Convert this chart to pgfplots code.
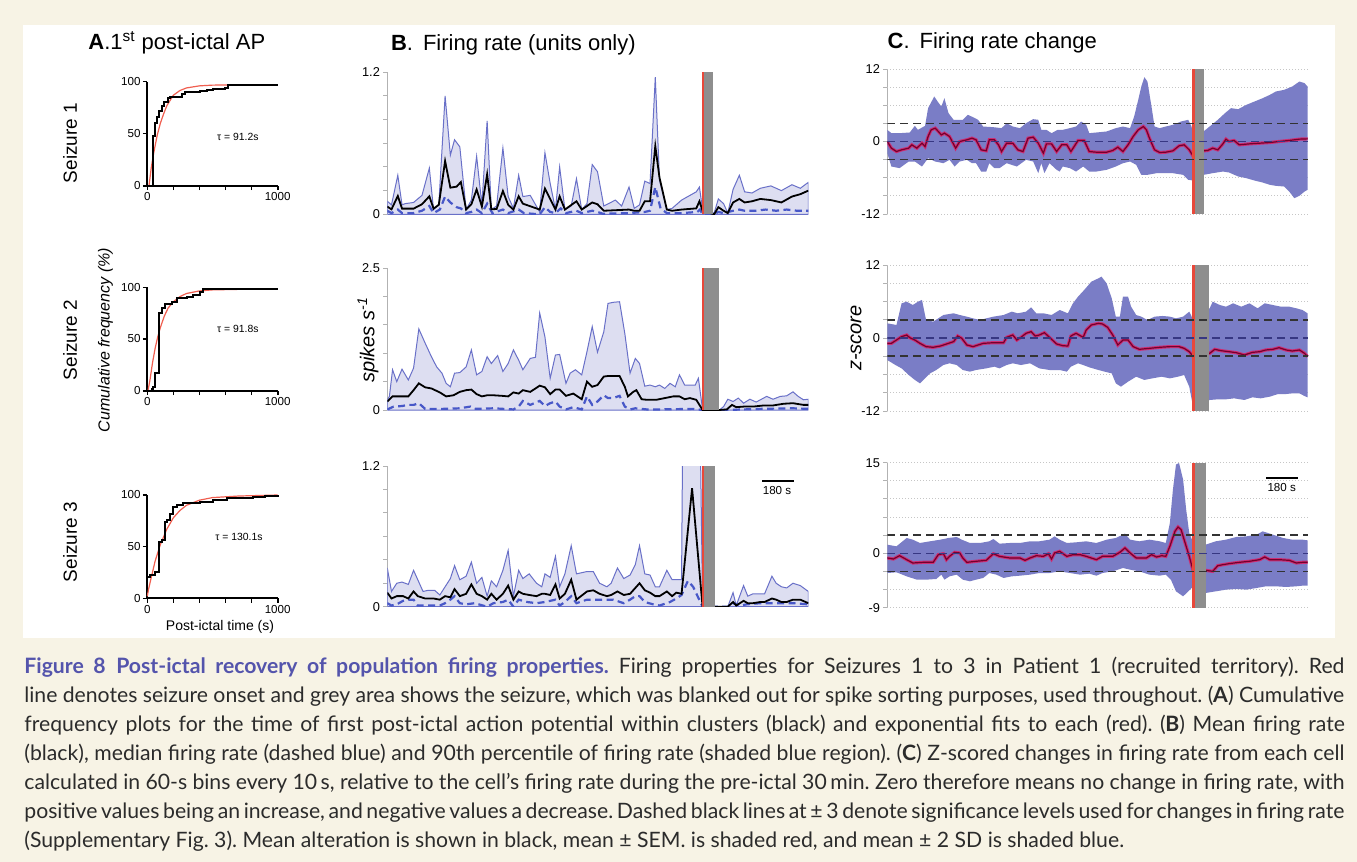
\documentclass[border=0pt]{standalone}
\usepackage{pgfplots}
\pgfplotsset{compat=1.18}
\usepackage{fontspec}
\setmainfont{Liberation Sans}
\newfontfamily\capfont{Lato}
\definecolor{cream}{RGB}{247,243,229}
\definecolor{bfill}{RGB}{221,222,241}
\definecolor{bline}{RGB}{105,112,200}
\definecolor{bmed}{RGB}{72,88,200}
\definecolor{cband}{RGB}{122,125,198}
\definecolor{sem}{RGB}{205,45,115}
\definecolor{meanc}{RGB}{115,0,45}
\definecolor{onset}{RGB}{232,72,58}
\definecolor{seiz}{RGB}{142,142,142}
\definecolor{figblue}{RGB}{84,84,172}
\definecolor{capgray}{RGB}{43,43,43}
\definecolor{fitred}{RGB}{240,95,80}
\definecolor{zline}{RGB}{55,55,130}
\pgfplotsset{
  Aax/.style={scale only axis, width=65.2pt, xmin=0, xmax=1000, ymin=0, ymax=100,
    axis lines=left, axis line style={-, line width=1pt, black},
    every tick/.style={black, line width=0.8pt}, tick align=outside, major tick length=2.2pt,
    xtick={0,200,400,600,800,1000}, xticklabels={0,,,,,1000},
    ytick={0,50,100}, yticklabels={0,50,100},
    tick label style={font=\fontsize{5.8}{6}\selectfont, inner sep=1pt}, clip=false},
  Bax/.style={scale only axis, width=210.5pt, xmin=-30, xmax=10.06, ymin=0,
    axis x line=none, axis y line*=left, axis line style={-, gray!60, line width=0.5pt},
    every tick/.style={gray!60, line width=0.5pt}, tick align=outside, major tick length=2pt,
    tick label style={font=\fontsize{6.4}{7}\selectfont, inner sep=1.5pt}},
  Cax/.style={scale only axis, width=210.65pt, xmin=-30, xmax=11.3,
    axis x line=none, axis y line*=left, axis line style={-, gray!60, line width=0.5pt},
    every tick/.style={gray!60, line width=0.5pt}, tick align=outside, major tick length=2pt,
    tick label style={font=\fontsize{6.4}{7}\selectfont, inner sep=1.5pt}},
  bup/.style={fill=bfill, draw=bline, line width=0.5pt},
  bmean/.style={black, line width=0.9pt},
  bmedian/.style={bmed, line width=1.1pt, dash pattern=on 3.5pt off 2.2pt},
  cfill/.style={fill=cband, draw=none},
  cmean/.style={meanc, line width=0.6pt},
  csem/.style={sem, line width=1.6pt},
  gridl/.style={gray!45, densely dotted, line width=0.5pt},
  sig/.style={black!80, line width=0.8pt, dash pattern=on 4pt off 2.5pt},
  zer/.style={zline, line width=0.8pt, dash pattern=on 4pt off 2.5pt},
}
\begin{document}
\begin{tikzpicture}
\useasboundingbox (0,0) rectangle (678.5pt,-431pt);
\begin{scope}[x=0.5pt,y=-0.5pt]
\fill[cream] (0,0) rectangle (1357,862);
\fill[white] (22.5,25) rectangle (1335,638);
\end{scope}

% ---------------- Panel A ----------------
\begin{axis}[Aax, height=52pt, at={(73.65pt,-92.85pt)}, anchor=south west]
\addplot[fitred, line width=0.6pt] coordinates {(13,0)(30,17)(50,32)(75,48)(100,60)(125,69)(150,77)(200,87)(250,91.5)(300,94)(400,96)(500,96.7)(700,97)(1000,97)};
\addplot[const plot, black, line width=1pt] coordinates {(0,0)(46,48)(59,60)(72,66)(92,72)(110,77)(128,80)(156,84)(174,85)(263,88)(289,90)(404,91)(455,92)(506,93)(596,94)(621,97)(1000,97)};
\end{axis}
\begin{axis}[Aax, height=51.7pt, at={(73.65pt,-195.35pt)}, anchor=south west]
\addplot[fitred, line width=0.6pt] coordinates {(5,0)(20,10)(40,27)(60,41)(80,52)(100,61)(130,72)(160,80)(200,86)(250,91)(300,94)(400,96.5)(500,97.5)(700,98)(1000,98)};
\addplot[const plot, black, line width=1pt] coordinates {(0,0)(33,1.3)(46,3.9)(59,16.8)(92,74.8)(110,79.7)(136,83.9)(187,86)(225,89.4)(302,91)(353,92.6)(404,95.8)(430,98)(1000,98)};
\end{axis}
\begin{axis}[Aax, height=51.65pt, at={(73.65pt,-299.15pt)}, anchor=south west]
\addplot[fitred, line width=0.6pt] coordinates {(0,2)(10,9)(30,20)(60,36)(100,52)(150,67)(200,78)(250,85)(300,90)(400,95)(500,97.5)(700,99)(1000,100)};
\addplot[const plot, black, line width=1pt] coordinates {(0,20.3)(20,22.6)(59,25.8)(92,54.8)(110,56.5)(136,74)(148,76)(174,82)(194,88.7)(225,90.3)(276,92.6)(404,93.5)(506,95)(609,96.8)(813,98.4)(900,99.5)(1000,100)};
\end{axis}

% ---------------- Panel B ----------------
\begin{axis}[Bax, height=71pt, ymax=1.2, ytick={0,0.2,0.4,0.6,0.8,1,1.2}, yticklabels={0,,,,,,1.2}, at={(193.65pt,-107.15pt)}, anchor=south west]
\addplot[bup] coordinates {(-30,0.11)(-29.6,0.08)(-29,0.33)(-28.6,0.08)(-28.3,0.09)(-27.5,0.10)(-26.7,0.16)(-26,0.39)(-25.6,0.04)(-25.1,0.08)(-24.5,1.00)(-24,0.50)(-23.6,0.63)(-23.1,0.57)(-22.5,0.04)(-22,0.12)(-21.5,0.49)(-21,0.08)(-20.5,0.79)(-20.1,0.04)(-19.6,0.07)(-19,0.56)(-18.5,0.15)(-18,0.05)(-17.5,0.33)(-17.1,0.15)(-16.4,0.16)(-15.5,0.02)(-15,0.52)(-14.5,0.26)(-14,0.04)(-13.6,0.40)(-13.1,0.04)(-12.5,0.07)(-12,0.30)(-11.5,0.04)(-11,0.09)(-10.5,0.42)(-10,0.36)(-9.4,0.07)(-8.3,0.12)(-7.7,0.07)(-7,0.23)(-6.5,0.05)(-6,0.08)(-5.5,0.28)(-5,0.26)(-4.5,1.16)(-4.1,0.29)(-3.4,0.04)(-2.9,0.05)(-2,0.12)(-1.2,0.16)(-0.6,0.19)(-0.3,0.23)(0,0.04)(1.1,0.01)(1.5,0.13)(2,0.09)(2.4,0.01)(2.9,0.21)(3.5,0.33)(4,0.19)(4.7,0.18)(5.5,0.22)(6.5,0.24)(7.5,0.2)(8.5,0.25)(9.3,0.22)(10.06,0.27)} \closedcycle;
\addplot[bmedian] coordinates {(-30,0.03)(-29.6,0.01)(-29,0.04)(-28.6,0.01)(-27.5,0.01)(-26.7,0.03)(-26,0.07)(-25.6,0.01)(-25,0.04)(-24.5,0.15)(-24,0.1)(-23.4,0.06)(-23,0.05)(-22.5,0.01)(-22,0.02)(-21.5,0.04)(-21,0.01)(-20.5,0.09)(-20,0.01)(-19,0.04)(-18.5,0.01)(-17.5,0.04)(-17,0.01)(-15.5,0)(-15,0.06)(-14.5,0.02)(-14,0.01)(-13.5,0.05)(-13,0.01)(-12,0.03)(-11.5,0.01)(-10.5,0.03)(-10,0.02)(-9.5,0.005)(-7,0.01)(-5.5,0.02)(-5,0.03)(-4.5,0.23)(-4,0.05)(-3.4,0.01)(-2,0.01)(-0.5,0.02)(-0.25,0.04)(0,0)(1.1,0)(1.5,0.02)(2,0.01)(2.9,0.03)(3.5,0.04)(4,0.03)(5,0.03)(6,0.04)(7,0.03)(8,0.04)(9,0.03)(10.06,0.03)};
\addplot[bmean] coordinates {(-30,0.065)(-29.6,0.042)(-29,0.155)(-28.6,0.048)(-27.5,0.048)(-26.7,0.085)(-26,0.152)(-25.6,0.048)(-25.1,0.08)(-24.5,0.45)(-24,0.225)(-23.4,0.234)(-23,0.273)(-22.5,0.04)(-22,0.085)(-21.5,0.21)(-21,0.065)(-20.5,0.338)(-20.1,0.042)(-19.6,0.045)(-19,0.197)(-18.5,0.08)(-18,0.04)(-17.5,0.152)(-17.1,0.09)(-15.5,0.04)(-15,0.217)(-14.5,0.13)(-14,0.04)(-13.6,0.152)(-13.1,0.04)(-12,0.11)(-11.5,0.04)(-10.5,0.1)(-10,0.085)(-9.4,0.03)(-7,0.04)(-6.5,0.03)(-6,0.03)(-5.5,0.11)(-5,0.11)(-4.5,0.577)(-4.1,0.31)(-3.4,0.04)(-2.9,0.03)(-2,0.04)(-0.6,0.05)(-0.3,0.11)(0,0.03)(1.1,0)(1.5,0.06)(2,0.03)(2.4,0.01)(2.9,0.1)(3.5,0.13)(4,0.1)(4.7,0.11)(5.5,0.13)(6.5,0.12)(7.5,0.1)(8.5,0.15)(9.3,0.17)(10.06,0.2)};
\fill[seiz] (axis cs:0.1,0) rectangle (axis cs:1.0,1.2);
\draw[onset, line width=1pt] (axis cs:0,0) -- (axis cs:0,1.2);
\end{axis}

\begin{axis}[Bax, height=70.85pt, ymax=2.5, ytick={0,0.5,1,1.5,2,2.5}, yticklabels={0,,,,,2.5}, at={(193.65pt,-205pt)}, anchor=south west]
\addplot[bup] coordinates {(-30,0.18)(-29.8,0.24)(-29.5,0.71)(-29.1,0.50)(-28.6,0.72)(-28,0.53)(-27.5,0.74)(-27,1.43)(-26.4,1.18)(-25.8,0.94)(-25.3,0.76)(-24.8,0.65)(-24.4,0.47)(-24,0.41)(-23.6,0.65)(-23.1,0.66)(-22.5,0.76)(-22,1.06)(-21.5,0.62)(-21,0.68)(-20.5,0.94)(-20.1,0.82)(-19.5,0.96)(-19,0.68)(-18.5,0.82)(-18,1.06)(-17.5,0.88)(-17.1,0.71)(-16.4,0.91)(-15.9,0.93)(-15.5,1.71)(-15,1.29)(-14.5,0.56)(-14,0.97)(-13.6,0.98)(-13,0.47)(-12.6,0.65)(-12.1,0.71)(-11.5,0.62)(-11,1.03)(-10.5,1.47)(-10,1.02)(-9.4,1.38)(-9,1.88)(-8.5,1.90)(-7.9,1.91)(-7.4,1.35)(-6.9,0.65)(-6.4,0.91)(-6,0.82)(-5.5,0.42)(-5,0.44)(-4.5,0.41)(-4.1,0.44)(-3.6,0.38)(-3.1,0.47)(-2.6,0.41)(-2.2,0.62)(-1.7,0.44)(-1.2,0.44)(-0.7,0.44)(-0.4,0.56)(0,0.01)(1.6,0)(2,0.06)(2.4,0.19)(2.9,0.15)(3.4,0.21)(3.9,0.12)(4.5,0.19)(5.1,0.14)(5.6,0.19)(6.1,0.24)(6.7,0.19)(7.4,0.24)(8,0.25)(8.6,0.32)(9.1,0.24)(9.6,0.18)(10.06,0.19)} \closedcycle;
\addplot[bmedian] coordinates {(-30,0.01)(-29.4,0.06)(-28.6,0.07)(-28,0.09)(-27.5,0.09)(-27,0.12)(-26.4,0.02)(-24.7,0.02)(-23.1,0.03)(-22.1,0.06)(-21.7,0.02)(-19.9,0.03)(-18,0.01)(-17.5,0.06)(-17.1,0.16)(-16.4,0.09)(-15.9,0.13)(-15.5,0.16)(-15,0.07)(-14.5,0.12)(-14,0.15)(-13.6,0.06)(-13,0.01)(-12.3,0.05)(-11.5,0.01)(-11,0.24)(-10.5,0.09)(-10,0.15)(-9.4,0.26)(-9,0.21)(-8.5,0.21)(-7.9,0.25)(-7.4,0.06)(-6.9,0.01)(-6.4,0.03)(-5.3,0.01)(-4.1,0.01)(-0.9,0.02)(0,0)(1.6,0)(2.3,0)(3.9,0.01)(5.5,0.02)(8.6,0.03)(10.06,0.02)};
\addplot[bmean] coordinates {(-30,0.15)(-29.5,0.24)(-28.6,0.24)(-28,0.24)(-27.5,0.35)(-27,0.47)(-26.4,0.40)(-25.8,0.38)(-25,0.31)(-24.4,0.24)(-23.7,0.26)(-23.1,0.32)(-22.5,0.35)(-22,0.36)(-21.5,0.28)(-21,0.24)(-20.5,0.26)(-19.9,0.26)(-19.1,0.25)(-18.5,0.24)(-18,0.31)(-17.5,0.29)(-17.1,0.35)(-16.4,0.32)(-15.9,0.38)(-15.5,0.43)(-15,0.40)(-14.5,0.28)(-14,0.36)(-13.6,0.36)(-13,0.25)(-12.3,0.29)(-11.5,0.19)(-11,0.50)(-10.5,0.41)(-10,0.44)(-9.4,0.59)(-9,0.60)(-7.9,0.60)(-7.4,0.41)(-7.1,0.24)(-6.6,0.32)(-6.3,0.35)(-5.8,0.19)(-5.3,0.18)(-4.4,0.18)(-3.6,0.21)(-2.8,0.24)(-2.2,0.24)(-1.7,0.19)(-1.2,0.21)(-0.6,0.18)(0,0)(1.6,0)(2.3,0.01)(2.8,0.09)(3.2,0.05)(3.9,0.06)(4.8,0.06)(5.8,0.08)(6.7,0.08)(7.7,0.11)(8.6,0.12)(9.6,0.09)(10.06,0.09)};
\fill[seiz] (axis cs:0.1,0) rectangle (axis cs:1.58,2.5);
\draw[onset, line width=1pt] (axis cs:0,0) -- (axis cs:0,2.5);
\end{axis}

\begin{axis}[Bax, height=70.35pt, ymax=1.2, ytick={0,0.2,0.4,0.6,0.8,1,1.2}, yticklabels={0,,,,,,1.2}, at={(193.65pt,-303.35pt)}, anchor=south west]
\addplot[bup] coordinates {(-30,0.33)(-29.6,0.13)(-29.1,0.20)(-28.6,0.21)(-28,0.19)(-27.5,0.31)(-27.1,0.23)(-26.6,0.13)(-26.1,0.14)(-25.5,0.14)(-25,0.10)(-24.5,0.17)(-24,0.24)(-23.6,0.35)(-23.1,0.23)(-22.5,0.26)(-22,0.38)(-21.5,0.20)(-21,0.25)(-20.5,0.09)(-20.1,0.22)(-19.6,0.17)(-19,0.31)(-18.5,0.48)(-18,0.09)(-17.5,0.31)(-17.1,0.24)(-16.5,0.28)(-15.8,0.20)(-15.3,0.17)(-15,0.28)(-14.5,0.25)(-14,0.43)(-13.6,0.17)(-13.1,0.28)(-12.5,0.52)(-12,0.28)(-11,0.30)(-10.4,0.30)(-9.8,0.20)(-9.1,0.17)(-8.7,0.20)(-8.1,0.33)(-7.5,0.24)(-6.9,0.27)(-6.4,0.36)(-6,0.52)(-5.5,0.28)(-5,0.27)(-4.5,0.17)(-4.1,0.17)(-3.4,0.31)(-2.9,0.23)(-2.5,0.23)(-2,0.23)(-1.85,2.0)(-1,2.3)(-0.3,2.0)(0,0)(1.2,0)(2.4,0)(2.9,0.12)(3.2,0.01)(3.9,0.18)(4.3,0.09)(4.8,0.11)(5.5,0.11)(5.9,0.11)(6.6,0.26)(7,0.20)(7.5,0.17)(8,0.16)(8.6,0.20)(9.3,0.18)(10.06,0.13)} \closedcycle;
\addplot[bmedian] coordinates {(-30,0.03)(-29.6,0.01)(-29.1,0.02)(-28.5,0.05)(-28,0.06)(-27.5,0.06)(-27.1,0.01)(-26.3,0.01)(-25,0.01)(-24.5,0.03)(-24,0.06)(-23.6,0.09)(-23.1,0.03)(-22.5,0.02)(-21.7,0.03)(-20.5,0)(-19.9,0.03)(-19,0.04)(-18.5,0.06)(-18,0)(-17.5,0.06)(-16.7,0.04)(-15.8,0.03)(-15,0.04)(-14,0.06)(-13.6,0.01)(-13.1,0.04)(-12.5,0.09)(-12,0.03)(-11,0.06)(-9.8,0.06)(-8.5,0.06)(-7.5,0.03)(-6.9,0.06)(-6.4,0.09)(-6,0.09)(-5.5,0.04)(-4.7,0.02)(-4.1,0.01)(-3.1,0.04)(-2.5,0.07)(-2,0.10)(-1.4,0.22)(-0.9,0.17)(0,0)(1.2,0)(2.6,0)(2.9,0.03)(3.6,0.01)(4.2,0.02)(5.5,0.03)(7,0.03)(8.6,0.03)(10.06,0.02)};
\addplot[bmean] coordinates {(-30,0.12)(-29.6,0.07)(-29.1,0.09)(-28.5,0.09)(-28,0.07)(-27.5,0.13)(-27.1,0.09)(-26.4,0.07)(-25.6,0.07)(-25,0.06)(-24.5,0.09)(-24,0.08)(-23.6,0.15)(-23.1,0.09)(-22.5,0.11)(-22,0.19)(-21.5,0.11)(-21,0.09)(-20.5,0.06)(-20.1,0.11)(-19.6,0.06)(-19,0.11)(-18.5,0.18)(-18,0.06)(-17.5,0.13)(-17.1,0.11)(-16.5,0.10)(-15.8,0.09)(-15.3,0.11)(-15,0.11)(-14.5,0.10)(-14,0.19)(-13.6,0.07)(-13.1,0.11)(-12.5,0.23)(-12,0.06)(-11,0.13)(-10.4,0.14)(-9.8,0.11)(-9.1,0.09)(-8.7,0.10)(-8.1,0.13)(-7.5,0.10)(-6.9,0.11)(-6.4,0.16)(-6,0.20)(-5.5,0.14)(-5,0.12)(-4.5,0.09)(-4.1,0.09)(-3.4,0.13)(-2.9,0.09)(-2.5,0.12)(-2,0.11)(-1,1.01)(0,0)(1.2,0)(2.4,0)(2.9,0.04)(3.2,0.01)(3.9,0.05)(4.3,0.03)(4.8,0.03)(5.5,0.04)(5.9,0.04)(6.6,0.07)(7,0.06)(7.5,0.04)(8,0.04)(8.6,0.06)(9.3,0.06)(10.06,0.03)};
\fill[seiz] (axis cs:0.1,0) rectangle (axis cs:1.17,1.2);
\draw[onset, line width=1pt] (axis cs:0,0) -- (axis cs:0,1.2);
\end{axis}

% ---------------- Panel C ----------------
\begin{axis}[Cax, height=72.5pt, ymin=-12, ymax=12, ytick={-12,-9,-6,-3,0,3,6,9,12}, yticklabels={-12,,,,0,,,,12}, at={(443.65pt,-107pt)}, anchor=south west]
\addplot[gridl] coordinates {(-30,12)(11.3,12)};
\addplot[gridl] coordinates {(-30,9)(11.3,9)};
\addplot[gridl] coordinates {(-30,6)(11.3,6)};
\addplot[gridl] coordinates {(-30,-6)(11.3,-6)};
\addplot[gridl] coordinates {(-30,-9)(11.3,-9)};
\addplot[gridl] coordinates {(-30,-12)(11.3,-12)};
\addplot[cfill] coordinates {(-30,1.93)(-29.6,1.38)(-28.8,1.38)(-27.8,1.49)(-27.3,2.59)(-27,1.93)(-26.3,2.59)(-26,5.52)(-25.4,7.45)(-25,6.46)(-24.7,5.79)(-24.4,7.17)(-24,4.69)(-23.5,3.59)(-23.1,3.59)(-22.6,3.59)(-22.1,4.41)(-21.6,4.03)(-21.1,3.59)(-20.6,2.48)(-19.6,2.37)(-18.8,2.21)(-18.3,3.03)(-17.7,2.48)(-17,2.21)(-16.4,3.03)(-15.7,3.70)(-15.2,3.59)(-14.9,1.93)(-14.4,1.93)(-13.9,1.38)(-13.3,1.93)(-12.8,1.93)(-12.1,2.21)(-11.5,2.48)(-11,3.31)(-10.5,2.76)(-10.2,1.38)(-9.5,1.49)(-8.5,1.66)(-7.6,2.21)(-6.9,2.48)(-6.2,2.21)(-5.8,4.14)(-5.4,6.90)(-5.1,9.10)(-4.8,10.65)(-4.5,9.93)(-4.1,5.79)(-3.8,2.48)(-3.3,2.21)(-2.7,2.48)(-2,2.76)(-1.2,3.31)(-0.5,3.59)(-0.2,2.59)(0,1.38)(1,1.66)(1.6,2.48)(2.4,3.59)(3.1,4.69)(3.7,5.52)(4.4,5.35)(5.2,6.07)(6,6.62)(6.8,7.17)(7.5,7.72)(8.1,8.28)(8.9,8.55)(9.7,9.10)(10.4,9.93)(10.9,9.66)(11.2,9.10)} \closedcycle;
\addplot[cfill] coordinates {(-30,-1.93)(-29.6,-4.14)(-28.8,-4.41)(-27.9,-3.31)(-27.3,-3.31)(-26.6,-4.14)(-26,-2.76)(-25.3,-3.31)(-24.5,-3.59)(-23.9,-3.03)(-23.4,-4.14)(-22.9,-3.31)(-22.2,-3.03)(-21.7,-3.59)(-21.3,-3.59)(-20.8,-4.97)(-20.3,-4.97)(-20,-3.59)(-19.5,-4.41)(-19,-4.41)(-18.3,-3.59)(-17.3,-4.14)(-16.4,-3.03)(-15.7,-3.31)(-15.2,-5.24)(-14.9,-3.59)(-14.6,-5.24)(-14.1,-3.59)(-13.4,-4.69)(-13.1,-4.97)(-12.8,-4.14)(-12.1,-4.41)(-11.5,-4.97)(-10.8,-4.14)(-10.2,-4.97)(-9.5,-4.97)(-8.5,-4.69)(-7.6,-4.14)(-6.9,-3.59)(-6.2,-3.31)(-5.6,-3.86)(-5.1,-5.52)(-4.5,-5.52)(-3.6,-5.24)(-3,-5.24)(-2,-5.24)(-1,-5.52)(-0.5,-6.34)(0,-6.46)(1,-5.52)(1.9,-5.24)(2.9,-4.97)(3.5,-5.13)(4.4,-5.79)(5.2,-6.07)(6,-6.46)(6.8,-6.79)(7.5,-7.17)(8.1,-7.34)(8.9,-7.45)(9.4,-8.28)(9.9,-9.38)(10.4,-8.99)(10.9,-8.28)(11.2,-8.00)} \closedcycle;
\addplot[cband, line width=0.8pt] coordinates {(-30,0)(11.2,0)};
\addplot[csem] coordinates {(-30,0)(-29.6,-1.10)(-29.1,-1.66)(-28.6,-1.38)(-27.9,-1.10)(-27.6,-0.55)(-27.1,-1.10)(-26.6,-0.28)(-26.3,-0.83)(-26,0.83)(-25.7,1.93)(-25.3,2.21)(-25,1.66)(-24.7,1.10)(-24.4,1.38)(-23.9,0.83)(-23.3,-1.10)(-22.9,0)(-22.2,0.28)(-21.7,0.55)(-21.3,0.28)(-20.8,-1.38)(-20.3,-1.54)(-20,0.28)(-19.5,0.28)(-19.1,-0.55)(-18.8,-1.66)(-18.3,-0.28)(-17.7,-0.28)(-17.2,-1.38)(-16.7,-1.66)(-16.2,0.55)(-15.7,0.72)(-15.2,-0.28)(-14.7,-1.93)(-14.4,-0.39)(-13.9,-0.39)(-13.4,-1.66)(-12.9,-0.55)(-12.4,-0.55)(-12,-1.66)(-11.3,0.17)(-10.7,0.17)(-10.2,-1.66)(-9.5,-1.77)(-8.5,-1.77)(-7.9,-1.49)(-7.4,-0.94)(-6.9,-1.66)(-6.4,-0.55)(-5.9,0.83)(-5.4,1.93)(-4.9,2.48)(-4.6,1.93)(-4.3,0.55)(-3.8,-1.38)(-3.3,-1.82)(-2.7,-1.77)(-2,-1.54)(-1.4,-0.72)(-0.9,-0.55)(-0.4,-1.38)(0,-2.48)(1,-1.54)(1.4,-1.49)(1.9,-1.10)(2.4,-1.38)(2.9,-0.39)(3.2,0.39)(3.5,0)(4,0.17)(4.5,-0.55)(5.5,-0.39)(6.5,-0.28)(7.5,-0.17)(8.4,0)(9.4,0.17)(10.4,0.39)(11.2,0.44)};
\addplot[cmean] coordinates {(-30,0)(-29.6,-1.10)(-29.1,-1.66)(-28.6,-1.38)(-27.9,-1.10)(-27.6,-0.55)(-27.1,-1.10)(-26.6,-0.28)(-26.3,-0.83)(-26,0.83)(-25.7,1.93)(-25.3,2.21)(-25,1.66)(-24.7,1.10)(-24.4,1.38)(-23.9,0.83)(-23.3,-1.10)(-22.9,0)(-22.2,0.28)(-21.7,0.55)(-21.3,0.28)(-20.8,-1.38)(-20.3,-1.54)(-20,0.28)(-19.5,0.28)(-19.1,-0.55)(-18.8,-1.66)(-18.3,-0.28)(-17.7,-0.28)(-17.2,-1.38)(-16.7,-1.66)(-16.2,0.55)(-15.7,0.72)(-15.2,-0.28)(-14.7,-1.93)(-14.4,-0.39)(-13.9,-0.39)(-13.4,-1.66)(-12.9,-0.55)(-12.4,-0.55)(-12,-1.66)(-11.3,0.17)(-10.7,0.17)(-10.2,-1.66)(-9.5,-1.77)(-8.5,-1.77)(-7.9,-1.49)(-7.4,-0.94)(-6.9,-1.66)(-6.4,-0.55)(-5.9,0.83)(-5.4,1.93)(-4.9,2.48)(-4.6,1.93)(-4.3,0.55)(-3.8,-1.38)(-3.3,-1.82)(-2.7,-1.77)(-2,-1.54)(-1.4,-0.72)(-0.9,-0.55)(-0.4,-1.38)(0,-2.48)(1,-1.54)(1.4,-1.49)(1.9,-1.10)(2.4,-1.38)(2.9,-0.39)(3.2,0.39)(3.5,0)(4,0.17)(4.5,-0.55)(5.5,-0.39)(6.5,-0.28)(7.5,-0.17)(8.4,0)(9.4,0.17)(10.4,0.39)(11.2,0.44)};
\fill[seiz] (axis cs:0.13,-12) rectangle (axis cs:1.05,12);
\draw[onset, line width=1.4pt] (axis cs:0,-12) -- (axis cs:0,12);
\addplot[sig] coordinates {(-30,3)(11.2,3)};
\addplot[sig] coordinates {(-30,-3)(11.2,-3)};
\addplot[zer] coordinates {(-30,0)(11.2,0)};
\end{axis}

\begin{axis}[Cax, height=73pt, ymin=-12, ymax=12, ytick={-12,-9,-6,-3,0,3,6,9,12}, yticklabels={-12,,,,0,,,,12}, at={(443.65pt,-205.5pt)}, anchor=south west]
\addplot[gridl] coordinates {(-30,12)(11.3,12)};
\addplot[gridl] coordinates {(-30,9)(11.3,9)};
\addplot[gridl] coordinates {(-30,6)(11.3,6)};
\addplot[gridl] coordinates {(-30,-6)(11.3,-6)};
\addplot[gridl] coordinates {(-30,-9)(11.3,-9)};
\addplot[gridl] coordinates {(-30,-12)(11.3,-12)};
\addplot[cfill] coordinates {(-30,2.41)(-29.1,2.14)(-28.6,5.70)(-28.1,5.97)(-27.5,5.42)(-27,5.97)(-26.6,6.25)(-26.2,2.96)(-25.5,2.69)(-24.5,3.78)(-23.5,4.06)(-22.9,3.78)(-22.2,3.51)(-21.6,3.23)(-20.9,2.96)(-20.3,3.23)(-19.6,3.51)(-18.6,3.78)(-17.8,4.33)(-17.2,4.06)(-16.4,4.33)(-15.9,5.04)(-15.4,4.06)(-14.7,4.06)(-13.9,3.78)(-13.1,4.60)(-12.3,4.06)(-11.8,5.70)(-11.3,6.80)(-10.7,7.89)(-10,9.26)(-9.3,9.81)(-9,10.08)(-8.5,8.99)(-8,6.52)(-7.6,3.51)(-7.2,3.51)(-6.9,6.80)(-6.4,6.80)(-6.1,5.15)(-5.6,3.78)(-5.1,3.51)(-4.5,2.96)(-3.8,3.51)(-3,3.62)(-2.3,3.51)(-1.7,3.23)(-1,3.51)(-0.4,4.33)(0,2.96)(1.6,4.88)(1.9,5.97)(2.6,5.42)(3.2,5.15)(3.9,5.70)(4.7,5.15)(5.5,5.70)(6.3,4.88)(7,5.70)(7.8,5.42)(8.6,5.15)(9.4,5.15)(10.1,4.88)(10.7,4.60)(11.2,4.06)} \closedcycle;
\addplot[cfill] coordinates {(-30,-3.62)(-29.2,-4.44)(-28.6,-4.99)(-27.9,-6.08)(-27.3,-6.90)(-26.8,-7.45)(-26.3,-6.63)(-25.8,-5.81)(-25.2,-5.26)(-24.5,-4.44)(-23.9,-4.16)(-23.2,-4.44)(-22.6,-5.26)(-21.9,-5.53)(-21.3,-5.26)(-20.3,-4.99)(-19.5,-4.71)(-19,-4.99)(-18.3,-4.44)(-17.7,-4.16)(-16.9,-4.44)(-16,-4.16)(-15.1,-4.99)(-14.1,-5.26)(-13.1,-5.26)(-12.4,-5.53)(-12,-4.71)(-11.3,-4.16)(-10.8,-4.44)(-10.2,-4.82)(-9.3,-5.26)(-8.7,-5.53)(-8,-5.81)(-7.6,-7.45)(-7.1,-8.00)(-6.4,-7.18)(-5.6,-6.36)(-4.8,-6.90)(-4,-6.63)(-3.1,-6.36)(-2.3,-6.63)(-1.5,-6.36)(-0.9,-6.08)(-0.4,-8.00)(0,-11.5)(1.6,-10.19)(2.4,-10.08)(3.2,-10.08)(4,-9.92)(5,-10.19)(5.8,-9.75)(6.6,-9.92)(7.5,-9.64)(8.3,-9.21)(9.1,-9.21)(9.7,-9.10)(10.4,-9.10)(10.9,-9.54)(11.2,-9.75)} \closedcycle;
\addplot[cband, line width=0.8pt] coordinates {(-30,0)(11.2,0)};
\addplot[csem] coordinates {(-30,-0.88)(-29.6,-0.88)(-29.1,-0.33)(-28.6,0.22)(-28.1,0.49)(-27.8,0.05)(-27.3,-0.33)(-26.8,-0.88)(-26.2,-1.42)(-25.5,-1.53)(-24.8,-1.32)(-24.2,-0.99)(-23.5,-0.60)(-23.1,0.33)(-22.7,-0.05)(-22.2,-1.15)(-21.6,-1.42)(-20.6,-0.88)(-19.6,-0.77)(-18.6,-0.77)(-18.3,0.11)(-17.7,0.49)(-17.3,-0.33)(-16.9,0.11)(-16.4,0.77)(-15.9,1.04)(-15.5,0.33)(-15.1,0.49)(-14.6,0.88)(-14.1,0.11)(-13.4,-0.99)(-12.8,-1.26)(-12.3,-1.32)(-12,0.33)(-11.5,0.77)(-10.8,0.11)(-10.5,1.32)(-10,2.14)(-9.3,2.41)(-8.9,2.30)(-8.4,1.75)(-7.9,0.49)(-7.4,-1.15)(-6.9,-0.33)(-6.4,-0.33)(-5.9,-1.42)(-5.3,-1.86)(-4.3,-1.70)(-3.3,-1.53)(-2.3,-1.42)(-1.4,-1.42)(-0.9,-1.70)(-0.4,-2.25)(0,-3.07)(1.6,-2.52)(2.1,-1.86)(2.7,-2.08)(3.5,-2.25)(4.2,-2.41)(5,-2.79)(5.8,-2.36)(6.5,-2.25)(7.1,-1.97)(7.8,-1.86)(8.4,-1.59)(9.1,-1.97)(9.7,-2.14)(10.4,-1.97)(10.9,-2.52)(11.2,-3.07)};
\addplot[cmean] coordinates {(-30,-0.88)(-29.6,-0.88)(-29.1,-0.33)(-28.6,0.22)(-28.1,0.49)(-27.8,0.05)(-27.3,-0.33)(-26.8,-0.88)(-26.2,-1.42)(-25.5,-1.53)(-24.8,-1.32)(-24.2,-0.99)(-23.5,-0.60)(-23.1,0.33)(-22.7,-0.05)(-22.2,-1.15)(-21.6,-1.42)(-20.6,-0.88)(-19.6,-0.77)(-18.6,-0.77)(-18.3,0.11)(-17.7,0.49)(-17.3,-0.33)(-16.9,0.11)(-16.4,0.77)(-15.9,1.04)(-15.5,0.33)(-15.1,0.49)(-14.6,0.88)(-14.1,0.11)(-13.4,-0.99)(-12.8,-1.26)(-12.3,-1.32)(-12,0.33)(-11.5,0.77)(-10.8,0.11)(-10.5,1.32)(-10,2.14)(-9.3,2.41)(-8.9,2.30)(-8.4,1.75)(-7.9,0.49)(-7.4,-1.15)(-6.9,-0.33)(-6.4,-0.33)(-5.9,-1.42)(-5.3,-1.86)(-4.3,-1.70)(-3.3,-1.53)(-2.3,-1.42)(-1.4,-1.42)(-0.9,-1.70)(-0.4,-2.25)(0,-3.07)(1.6,-2.52)(2.1,-1.86)(2.7,-2.08)(3.5,-2.25)(4.2,-2.41)(5,-2.79)(5.8,-2.36)(6.5,-2.25)(7.1,-1.97)(7.8,-1.86)(8.4,-1.59)(9.1,-1.97)(9.7,-2.14)(10.4,-1.97)(10.9,-2.52)(11.2,-3.07)};
\fill[seiz] (axis cs:0.13,-12) rectangle (axis cs:1.57,12);
\draw[onset, line width=1.4pt] (axis cs:0,-12) -- (axis cs:0,12);
\addplot[sig] coordinates {(-30,3)(11.2,3)};
\addplot[sig] coordinates {(-30,-3)(11.2,-3)};
\addplot[zer] coordinates {(-30,0)(11.2,0)};
\end{axis}

\begin{axis}[Cax, height=72.5pt, ymin=-9, ymax=15, ytick={-9,-6,-3,0,3,6,9,12,15}, yticklabels={-9,,,0,,,,,15}, at={(443.65pt,-303.85pt)}, anchor=south west]
\addplot[gridl] coordinates {(-30,15)(11.3,15)};
\addplot[gridl] coordinates {(-30,12)(11.3,12)};
\addplot[gridl] coordinates {(-30,9)(11.3,9)};
\addplot[gridl] coordinates {(-30,6)(11.3,6)};
\addplot[gridl] coordinates {(-30,-6)(11.3,-6)};
\addplot[gridl] coordinates {(-30,-9)(11.3,-9)};
\addplot[cfill] coordinates {(-30,1.43)(-29.1,1.16)(-28.1,2.54)(-27.5,2.26)(-26.8,1.71)(-25.8,1.99)(-24.8,2.26)(-24,2.54)(-23.2,2.70)(-22.7,2.26)(-21.9,1.71)(-20.9,1.71)(-20,1.99)(-19.6,2.37)(-19,1.60)(-18,1.71)(-17,1.71)(-16,1.99)(-15.1,1.99)(-14.1,2.26)(-13.6,2.81)(-13.1,2.26)(-12.4,1.71)(-11.5,1.82)(-10.5,1.99)(-9.5,1.71)(-8.5,2.26)(-7.6,2.54)(-6.7,3.26)(-6.2,2.26)(-5.3,1.99)(-4.3,2.26)(-3.3,1.99)(-2.7,1.71)(-2.3,5.02)(-2,10.54)(-1.7,14.68)(-1.4,14.95)(-1,12.19)(-0.7,7.22)(-0.4,3.37)(0,1.71)(1.2,1.43)(2.2,1.99)(3.2,2.26)(4.2,2.70)(5.2,2.81)(6.2,3.09)(6.8,3.64)(7.8,3.09)(8.8,2.54)(9.7,2.26)(10.7,2.26)(11.2,2.15)} \closedcycle;
\addplot[cfill] coordinates {(-30,-3.26)(-29.1,-3.14)(-28.1,-3.81)(-27.1,-4.36)(-26.2,-4.36)(-25.2,-4.25)(-24.7,-3.53)(-24.4,-4.36)(-23.9,-3.81)(-23.2,-3.53)(-22.6,-4.36)(-21.9,-4.63)(-21.3,-4.36)(-20.6,-4.08)(-20,-3.26)(-19.3,-3.53)(-18.6,-4.08)(-17.8,-3.81)(-17,-3.70)(-16,-3.53)(-15.1,-3.26)(-14.1,-3.26)(-13.1,-2.98)(-12.1,-3.26)(-11.1,-3.53)(-10.2,-3.37)(-9.5,-3.70)(-8.9,-3.26)(-7.9,-2.98)(-6.9,-2.43)(-6.2,-2.70)(-5.3,-2.98)(-4.3,-3.53)(-3.3,-3.70)(-2.7,-3.53)(-2.2,-4.36)(-1.7,-6.29)(-1,-7.12)(-0.5,-6.29)(0,-5.46)(1.2,-6.57)(2.2,-6.29)(3.2,-6.01)(4.2,-5.90)(5.2,-6.01)(6.2,-5.74)(7.1,-5.46)(8.1,-5.46)(9.1,-5.57)(10.1,-5.46)(10.7,-5.35)(11.2,-5.35)} \closedcycle;
\addplot[cband, line width=0.8pt] coordinates {(-30,0)(11.2,0)};
\addplot[csem] coordinates {(-30,-0.77)(-29.4,-0.94)(-28.8,-0.39)(-28.1,-1.05)(-27.5,-1.60)(-26.5,-1.49)(-25.5,-1.49)(-25,-0.22)(-24.5,-0.06)(-24.2,-1.05)(-23.9,-0.50)(-23.4,0.17)(-22.9,0.06)(-22.6,-0.77)(-22.2,-1.49)(-21.3,-1.32)(-20.3,-1.16)(-19.6,-0.06)(-19,-0.50)(-18,-0.77)(-17,-0.77)(-16.5,-1.16)(-16,-0.77)(-15.4,-0.39)(-14.7,-0.50)(-14.2,-0.06)(-13.9,-0.94)(-13.6,0.06)(-13.1,0.33)(-12.4,-0.50)(-11.8,-0.22)(-11.1,-0.22)(-10.5,-0.50)(-9.5,-1.05)(-8.9,-0.50)(-7.9,-0.50)(-7.2,0.17)(-6.7,0.88)(-6.2,0.06)(-5.6,-0.77)(-4.6,-0.77)(-4.1,-0.22)(-3.6,-0.61)(-3.1,-0.39)(-2.7,-0.50)(-2.3,1.16)(-1.8,3.64)(-1.5,4.36)(-1.2,3.92)(-0.9,2.26)(-0.4,-0.50)(0,-2.98)(1.2,-2.81)(1.9,-2.98)(2.4,-2.04)(2.9,-1.88)(3.5,-1.71)(4.5,-1.49)(5.5,-1.32)(6.5,-1.05)(7,-0.61)(7.5,-1.05)(8.4,-1.05)(9.4,-1.16)(10.1,-1.60)(10.7,-1.49)(11.2,-1.49)};
\addplot[cmean] coordinates {(-30,-0.77)(-29.4,-0.94)(-28.8,-0.39)(-28.1,-1.05)(-27.5,-1.60)(-26.5,-1.49)(-25.5,-1.49)(-25,-0.22)(-24.5,-0.06)(-24.2,-1.05)(-23.9,-0.50)(-23.4,0.17)(-22.9,0.06)(-22.6,-0.77)(-22.2,-1.49)(-21.3,-1.32)(-20.3,-1.16)(-19.6,-0.06)(-19,-0.50)(-18,-0.77)(-17,-0.77)(-16.5,-1.16)(-16,-0.77)(-15.4,-0.39)(-14.7,-0.50)(-14.2,-0.06)(-13.9,-0.94)(-13.6,0.06)(-13.1,0.33)(-12.4,-0.50)(-11.8,-0.22)(-11.1,-0.22)(-10.5,-0.50)(-9.5,-1.05)(-8.9,-0.50)(-7.9,-0.50)(-7.2,0.17)(-6.7,0.88)(-6.2,0.06)(-5.6,-0.77)(-4.6,-0.77)(-4.1,-0.22)(-3.6,-0.61)(-3.1,-0.39)(-2.7,-0.50)(-2.3,1.16)(-1.8,3.64)(-1.5,4.36)(-1.2,3.92)(-0.9,2.26)(-0.4,-0.50)(0,-2.98)(1.2,-2.81)(1.9,-2.98)(2.4,-2.04)(2.9,-1.88)(3.5,-1.71)(4.5,-1.49)(5.5,-1.32)(6.5,-1.05)(7,-0.61)(7.5,-1.05)(8.4,-1.05)(9.4,-1.16)(10.1,-1.60)(10.7,-1.49)(11.2,-1.49)};
\fill[seiz] (axis cs:0.13,-9) rectangle (axis cs:1.2,15);
\draw[onset, line width=1.4pt] (axis cs:0,-9) -- (axis cs:0,15);
\addplot[sig] coordinates {(-30,3)(11.2,3)};
\addplot[sig] coordinates {(-30,-3)(11.2,-3)};
\addplot[zer] coordinates {(-30,0)(11.2,0)};
\end{axis}

% ---------------- Text ----------------
\begin{scope}[x=0.5pt,y=-0.5pt]
\node[anchor=base west, inner sep=0, font=\fontsize{11}{13}\selectfont] at (88,49) {\textbf{A}.1\textsuperscript{st} post-ictal AP};
\node[anchor=base west, inner sep=0, font=\fontsize{11}{13}\selectfont] at (390.7,50) {\textbf{B}.\hspace{0.45em}Firing rate (units only)};
\node[anchor=base west, inner sep=0, font=\fontsize{11}{13}\selectfont] at (887.3,48.5) {\textbf{C}.\hspace{0.45em}Firing rate change};
\node[rotate=90, font=\fontsize{9.5}{11}\selectfont] at (70,143) {Seizure 1};
\node[rotate=90, font=\fontsize{9.5}{11}\selectfont] at (70,340) {Seizure 2};
\node[rotate=90, font=\fontsize{9.5}{11}\selectfont] at (70,542) {Seizure 3};
\node[rotate=90, font=\itshape\fontsize{8}{9}\selectfont] at (105.5,340) {Cumulative frequency (\%)};
\node[font=\fontsize{7}{8}\selectfont] at (220,627) {Post-ictal time (s)};
\node[anchor=west, inner sep=0, font=\fontsize{5.2}{6}\selectfont] at (216.7,136.7) {τ = 91.2s};
\node[anchor=west, inner sep=0, font=\fontsize{5.2}{6}\selectfont] at (216.7,329.3) {τ = 91.8s};
\node[anchor=west, inner sep=0, font=\fontsize{5.2}{6}\selectfont] at (215,536.7) {τ = 130.1s};
\node[rotate=90, font=\itshape\fontsize{10}{12}\selectfont] at (368,340) {spikes s\textsuperscript{-1}};
\node[rotate=90, font=\itshape\fontsize{10}{12}\selectfont] at (856,338) {z-score};
\draw[line width=1.1pt] (762.3,481) -- (794.3,481);
\node[font=\fontsize{5.8}{7}\selectfont] at (777,490.5) {180 s};
\draw[line width=1.1pt] (1266,478.3) -- (1297.7,478.3);
\node[font=\fontsize{5.8}{7}\selectfont] at (1281.7,488) {180 s};
% caption
\begin{scope}[every node/.style={anchor=base west, inner sep=0, font=\capfont\fontsize{10.6}{12}\selectfont\frenchspacing, text=capgray}]
\node at (24,673.3) {\makebox[660pt][s]{\textcolor{figblue}{\textbf{Figure 8}\hspace{0.5em}\textbf{Post-ictal recovery of population firing properties.}} Firing properties for Seizures 1 to 3 in Patient 1 (recruited territory). Red}};
\node at (24,702.4) {\makebox[660pt][s]{line denotes seizure onset and grey area shows the seizure, which was blanked out for spike sorting purposes, used throughout. (\textbf{A}) Cumulative}};
\node at (24,731.5) {\spaceskip=0.355em\relax frequency plots for the time of first post-ictal action potential within clusters (black) and exponential fits to each (red). (\textbf{B}) Mean firing rate};
\node at (24,760.6) {\makebox[660pt][s]{(black), median firing rate (dashed blue) and 90th percentile of firing rate (shaded blue region). (\textbf{C}) Z-scored changes in firing rate from each cell}};
\node at (24,789.7) {\makebox[660pt][s]{calculated in 60-s bins every 10\,s, relative to the cell’s firing rate during the pre-ictal 30\,min. Zero therefore means no change in firing rate, with}};
\node at (24,818.8) {\makebox[660pt][s]{positive values being an increase, and negative values a decrease. Dashed black lines at ± 3 denote significance levels used for changes in firing rate}};
\node at (24,847.9) {(Supplementary Fig. 3). Mean alteration is shown in black, mean ± SEM. is shaded red, and mean ± 2 SD is shaded blue.};
\end{scope}
\end{scope}
\end{tikzpicture}
\end{document}
